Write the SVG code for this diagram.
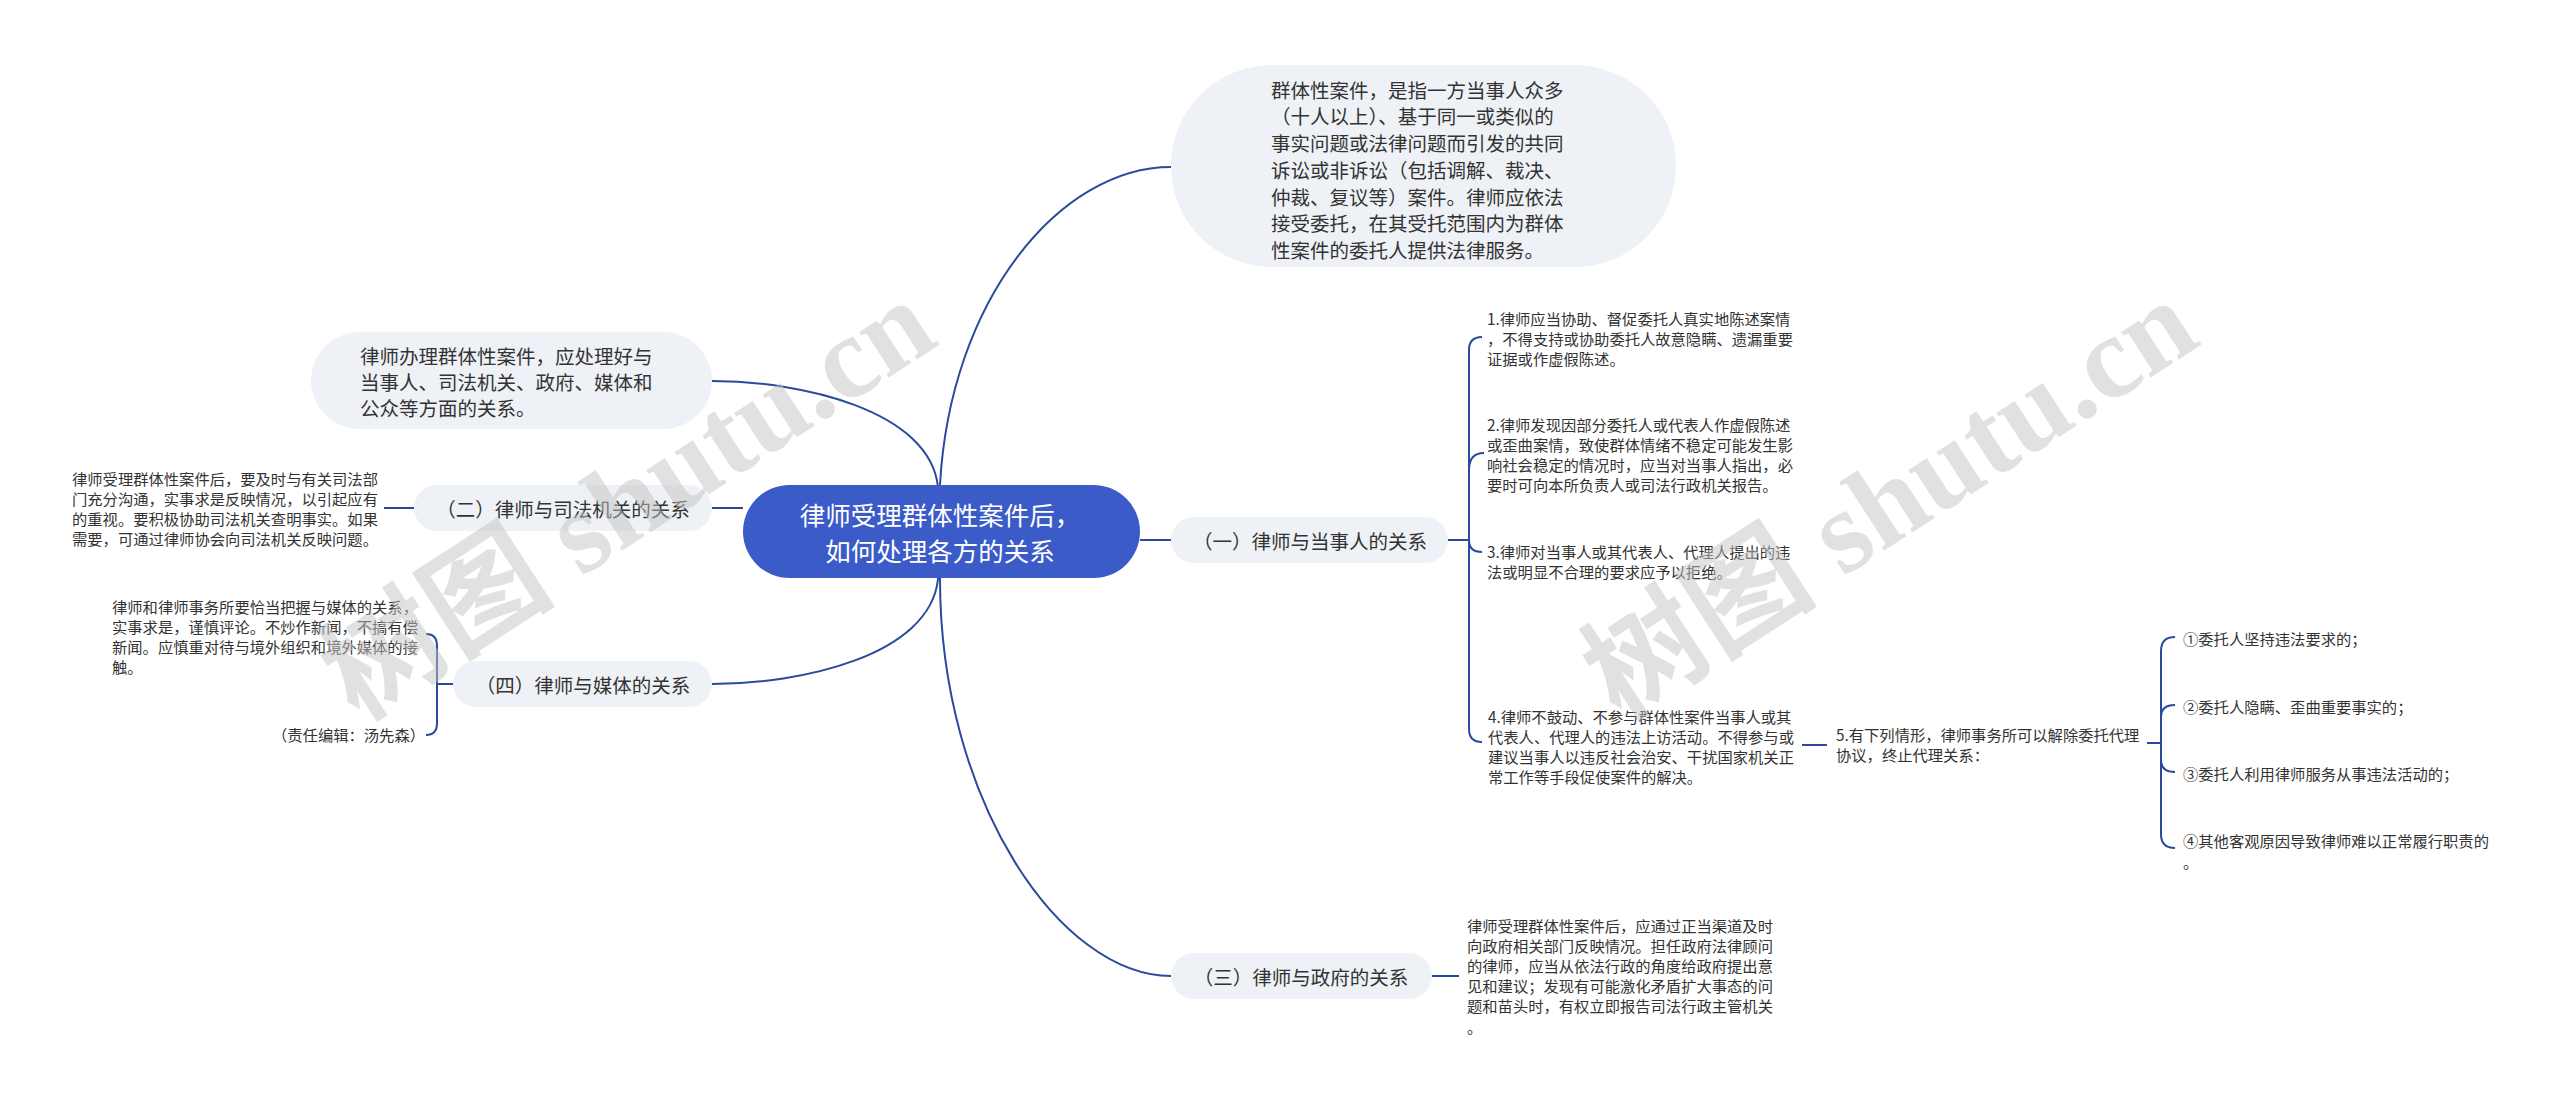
<svg xmlns="http://www.w3.org/2000/svg" width="2560" height="1107" viewBox="0 0 2560 1107">
<style>
.conn{fill:none;stroke:#2b4a9c;stroke-width:2}
.node{fill:#eef1f6}
.root{fill:#3b5cc8}
.t{font-family:"Noto Sans CJK SC","Liberation Sans",sans-serif;fill:#333;dominant-baseline:central}
.s{font-size:15.3px}
.m{font-size:19.5px}
.mc{font-size:19.5px;text-anchor:middle}
.c{font-size:25.5px;text-anchor:middle;fill:#fff}
.wm{font-family:"Liberation Serif","Noto Sans CJK SC",serif;font-size:118px;font-weight:bold;fill:#c4c4c4;opacity:.5}
</style>
<rect width="2560" height="1107" fill="#fff"/>
<g id="connectors">
  <path class="conn" d="M940,531 L940,485 C950,300 1060,167 1171,167"/>
  <path class="conn" d="M940,531 L938,487 C930,410 800,381 712,381"/>
  <path class="conn" d="M743,508 L712,508"/>
  <path class="conn" d="M940,531 L938,579 C930,656 800,684 712,684"/>
  <path class="conn" d="M940,531 L940,579 C940,800 1060,976 1171,976"/>
  <path class="conn" d="M1140,540 L1171,540"/>
  <path class="conn" d="M414,508 L384,508"/>
  <path class="conn" d="M453,684 L437,684"/>
  <path class="conn" d="M426,634 Q437,634 437,646 L437,723 Q437,735 426,735"/>
  <path class="conn" d="M1448,540 L1469,540"/>
  <path class="conn" d="M1482,337 Q1469,337 1469,350 L1469,729 Q1469,742 1482,742"/>
  <path class="conn" d="M1469,470 Q1469,453 1484,453"/>
  <path class="conn" d="M1469,540 Q1469,552 1482,552"/>
  <path class="conn" d="M1802,745 L1827,745"/>
  <path class="conn" d="M2147,743 L2161,743"/>
  <path class="conn" d="M2175,637 Q2161,637 2161,651 L2161,834 Q2161,848 2175,848"/>
  <path class="conn" d="M2161,717 Q2161,705 2175,705"/>
  <path class="conn" d="M2161,760 Q2161,772 2175,772"/>
  <path class="conn" d="M1432,976 L1459,976"/>
</g>
<g id="root">
  <rect class="root" x="743" y="485" width="397" height="93" rx="46.5"/>
  <text class="t c" x="940" y="513">律师受理群体性案件后，</text>
  <text class="t c" x="940" y="549">如何处理各方的关系</text>
</g>
<g id="definition">
  <rect class="node" x="1171" y="65" width="505" height="202" rx="101"/>
  <text class="t m" x="1271" y="89">群体性案件，是指一方当事人众多</text>
  <text class="t m" x="1271" y="115.5">（十人以上）、基于同一或类似的</text>
  <text class="t m" x="1271" y="142">事实问题或法律问题而引发的共同</text>
  <text class="t m" x="1271" y="169">诉讼或非诉讼（包括调解、裁决、</text>
  <text class="t m" x="1271" y="196">仲裁、复议等）案件。律师应依法</text>
  <text class="t m" x="1271" y="222.5">接受委托，在其受托范围内为群体</text>
  <text class="t m" x="1271" y="249">性案件的委托人提供法律服务。</text>
</g>
<g id="overview">
  <rect class="node" x="311" y="332" width="401" height="97" rx="48.5"/>
  <text class="t m" x="360" y="355">律师办理群体性案件，应处理好与</text>
  <text class="t m" x="360" y="381">当事人、司法机关、政府、媒体和</text>
  <text class="t m" x="360" y="407">公众等方面的关系。</text>
</g>
<g id="branch2">
  <rect class="node" x="414" y="485" width="298" height="46" rx="23"/>
  <text class="t mc" x="563" y="508">（二）律师与司法机关的关系</text>
</g>
<g id="branch2-note">
  <text class="t s" x="72" y="478">律师受理群体性案件后，要及时与有关司法部</text>
  <text class="t s" x="72" y="498">门充分沟通，实事求是反映情况，以引起应有</text>
  <text class="t s" x="72" y="518">的重视。要积极协助司法机关查明事实。如果</text>
  <text class="t s" x="72" y="538">需要，可通过律师协会向司法机关反映问题。</text>
</g>
<g id="branch4">
  <rect class="node" x="453" y="661" width="259" height="46" rx="23"/>
  <text class="t mc" x="583" y="684">（四）律师与媒体的关系</text>
</g>
<g id="branch4-note">
  <text class="t s" x="112" y="606">律师和律师事务所要恰当把握与媒体的关系，</text>
  <text class="t s" x="112" y="626">实事求是，谨慎评论。不炒作新闻，不搞有偿</text>
  <text class="t s" x="112" y="646">新闻。应慎重对待与境外组织和境外媒体的接</text>
  <text class="t s" x="112" y="666">触。</text>
</g>
<g id="editor">
  <text class="t s" x="272" y="734">（责任编辑：汤先森）</text>
</g>
<g id="branch1">
  <rect class="node" x="1171" y="517" width="277" height="46" rx="23"/>
  <text class="t mc" x="1310" y="540">（一）律师与当事人的关系</text>
</g>
<g id="item1">
  <text class="t s" x="1487" y="318">1.律师应当协助、督促委托人真实地陈述案情</text>
  <text class="t s" x="1487" y="338">，不得支持或协助委托人故意隐瞒、遗漏重要</text>
  <text class="t s" x="1487" y="358">证据或作虚假陈述。</text>
</g>
<g id="item2">
  <text class="t s" x="1487" y="424">2.律师发现因部分委托人或代表人作虚假陈述</text>
  <text class="t s" x="1487" y="444">或歪曲案情，致使群体情绪不稳定可能发生影</text>
  <text class="t s" x="1487" y="464">响社会稳定的情况时，应当对当事人指出，必</text>
  <text class="t s" x="1487" y="484">要时可向本所负责人或司法行政机关报告。</text>
</g>
<g id="item3">
  <text class="t s" x="1487" y="551">3.律师对当事人或其代表人、代理人提出的违</text>
  <text class="t s" x="1487" y="571">法或明显不合理的要求应予以拒绝。</text>
</g>
<g id="item4">
  <text class="t s" x="1488" y="716">4.律师不鼓动、不参与群体性案件当事人或其</text>
  <text class="t s" x="1488" y="736">代表人、代理人的违法上访活动。不得参与或</text>
  <text class="t s" x="1488" y="756">建议当事人以违反社会治安、干扰国家机关正</text>
  <text class="t s" x="1488" y="776">常工作等手段促使案件的解决。</text>
</g>
<g id="item5">
  <text class="t s" x="1836" y="734">5.有下列情形，律师事务所可以解除委托代理</text>
  <text class="t s" x="1836" y="754">协议，终止代理关系：</text>
</g>
<g id="case1"><text class="t s" x="2183" y="638">①委托人坚持违法要求的；</text></g>
<g id="case2"><text class="t s" x="2183" y="706">②委托人隐瞒、歪曲重要事实的；</text></g>
<g id="case3"><text class="t s" x="2183" y="773">③委托人利用律师服务从事违法活动的；</text></g>
<g id="case4">
  <text class="t s" x="2183" y="840">④其他客观原因导致律师难以正常履行职责的</text>
  <text class="t s" x="2183" y="861">。</text>
</g>
<g id="branch3">
  <rect class="node" x="1171" y="953" width="261" height="46" rx="23"/>
  <text class="t mc" x="1301" y="976">（三）律师与政府的关系</text>
</g>
<g id="branch3-note">
  <text class="t s" x="1467" y="925">律师受理群体性案件后，应通过正当渠道及时</text>
  <text class="t s" x="1467" y="945">向政府相关部门反映情况。担任政府法律顾问</text>
  <text class="t s" x="1467" y="965">的律师，应当从依法行政的角度给政府提出意</text>
  <text class="t s" x="1467" y="985">见和建议；发现有可能激化矛盾扩大事态的问</text>
  <text class="t s" x="1467" y="1005">题和苗头时，有权立即报告司法行政主管机关</text>
  <text class="t s" x="1467" y="1026">。</text>
</g>
<g id="watermarks">
  <text class="wm" transform="translate(358,722) rotate(-33)">树图 shutu.cn</text>
  <text class="wm" transform="translate(1620,722) rotate(-33)">树图 shutu.cn</text>
</g>
</svg>
